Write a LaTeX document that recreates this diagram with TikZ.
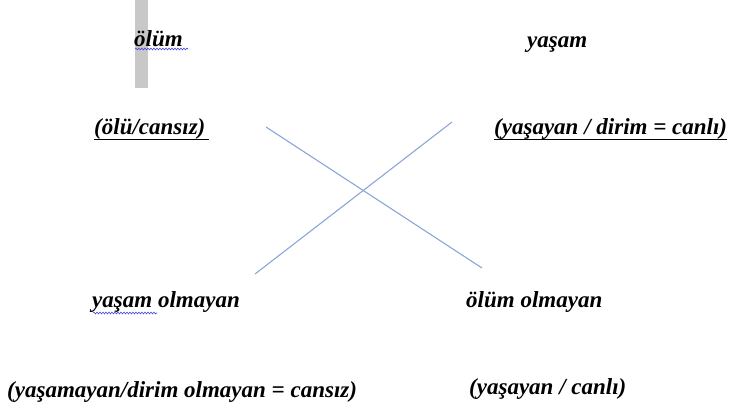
\documentclass[tikz,border=0pt]{standalone}
\usepackage{fontspec}
\setmainfont{Liberation Serif}
\usetikzlibrary{calc,decorations.pathmorphing}
\definecolor{crossblue}{RGB}{140,165,215}
\definecolor{barGrey}{RGB}{200,200,200}
\definecolor{spellblue}{RGB}{70,70,220}
\tikzset{
  lbl/.style={anchor=base west, inner sep=0pt, font=\fontsize{23}{27}\selectfont\bfseries\itshape},
  xline/.style={draw=crossblue, line width=1.1pt},
  uline/.style={draw=black, line width=1.6pt},
  wavy/.style={draw=spellblue, line width=0.6pt, decorate, decoration={snake, amplitude=0.9pt, segment length=3pt}}
}
\begin{document}
\begin{tikzpicture}[x=1pt,y=-1pt]
\useasboundingbox (0,0) rectangle (730,407);
\fill[barGrey] (135,0) rectangle (148,88);
\node[lbl] (olum) at (134,46) {ölüm};
\node[lbl] (yasam) at (527,47) {yaşam};
\node[lbl] (olu) at (94,134) {(ölü/cansız)\,};
\node[lbl] (yasayan) at (494,134) {(yaşayan / dirim = canlı)};
\node[lbl] (yolm) at (92,307) {yaşam olmayan};
\node[lbl] (oolm) at (466,307) {ölüm olmayan};
\node[lbl] (yasamayan) at (7,397) {(yaşamayan/dirim olmayan = cansız)};
\node[lbl] (yascanli) at (469,394) {(yaşayan / canlı)};
% underlines
\draw[uline] ($(olu.base west)+(0,5.5)$) -- ($(olu.base east)+(0,5.5)$);
\draw[uline] ($(yasayan.base west)+(0,5.5)$) -- ($(yasayan.base east)+(0,5.5)$);
% spell-check wavy lines
\coordinate (w1a) at (135,49);
\coordinate (w1b) at (188,49);
\draw[wavy] (w1a) -- (w1b);
\coordinate (w2a) at (93,313);
\coordinate (w2b) at (157,313);
\draw[wavy] (w2a) -- (w2b);
% cross
\coordinate (a1) at (266,127);
\coordinate (a2) at (482,268);
\coordinate (b1) at (452,122);
\coordinate (b2) at (255,274);
\draw[xline] (a1) -- (a2);
\draw[xline] (b1) -- (b2);
\end{tikzpicture}
\end{document}
